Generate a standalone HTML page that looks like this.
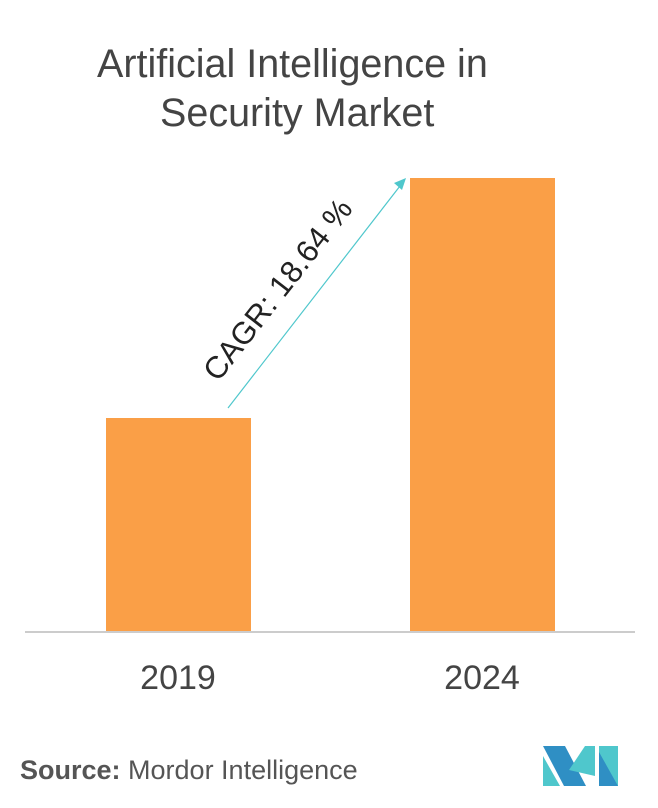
<!DOCTYPE html>
<html><head><style>
body{margin:0;width:658px;height:808px;background:#fff;font-family:"Liberation Sans",sans-serif;position:relative;overflow:hidden}
.t{position:absolute;left:97px;top:40px;font-size:39.5px;line-height:49px;color:#444;white-space:nowrap}
.bar{position:absolute;background:#FA9F47}
.lab{position:absolute;font-size:34px;color:#444;width:200px;text-align:center;top:659px}
</style></head><body>
<div class="t">Artificial Intelligence in<br><span style="margin-left:63px">Security Market</span></div>
<div class="bar" style="left:106px;top:418px;width:145px;height:214px"></div>
<div class="bar" style="left:410px;top:178px;width:145px;height:454px"></div>
<div style="position:absolute;left:25px;top:631px;width:610px;height:2px;background:#ccc"></div>
<svg style="position:absolute;left:0;top:0" width="658" height="808">
<line x1="228" y1="408" x2="400" y2="186" stroke="#4FC7CC" stroke-width="1.2"/>
<polygon points="406,178 394,183 402,190" fill="#4FC7CC"/>
<text x="286" y="296" font-family="Liberation Sans, sans-serif" font-size="31" fill="#222" text-anchor="middle" transform="rotate(-52 286 296)">CAGR: 18.64 %</text>
<polygon points="543,746 565,746 586,786 564,786" fill="#2F8FC4"/>
<polygon points="543,756 560,786 543,786" fill="#4FC7CC"/>
<polygon points="569,770 585,746 595,746 595,776" fill="#4FC7CC"/>
<polygon points="599,746 618,746 618,786 599,786" fill="#4FC7CC"/>
<polygon points="599,752 618,786 599,786" fill="#2F8FC4"/>
</svg>
<div class="lab" style="left:78px">2019</div>
<div class="lab" style="left:382px">2024</div>
<div style="position:absolute;left:20px;top:755px;font-size:27px;color:#555;white-space:nowrap"><b>Source:</b> Mordor Intelligence</div>
</body></html>
